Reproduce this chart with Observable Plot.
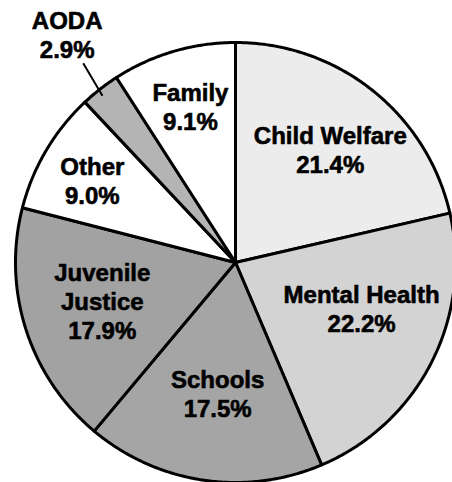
<!DOCTYPE html>
<html><head><meta charset="utf-8">
<script src="https://cdn.jsdelivr.net/npm/d3@7"></script>
<script src="https://cdn.jsdelivr.net/npm/@observablehq/plot@0.6"></script>
<style>body{margin:0;background:#fff;overflow:hidden}</style>
</head><body><div id="chart"></div>
<script>
// ---- data ----
const categories = ["Child Welfare","Mental Health","Schools","Juvenile Justice","Other","AODA","Family"];
const labelNames = ["Child Welfare","Mental Health","Schools","Juvenile\nJustice","Other","AODA","Family"];
const shares = [21.4, 22.2, 17.5, 17.9, 9.0, 2.9, 9.1];
const percentLabels = ["21.4%","22.2%","17.5%","17.9%","9.0%","2.9%","9.1%"];

// ---- style / layout ----
const sliceColors = ["#ececec","#d3d3d3","#a5a5a5","#a2a2a2","#ffffff","#b4b4b4","#ffffff"];
const labelRadius = [0.67, 0.61, 0.60, 0.63, 0.75, 1.29, 0.74];
const labelAngleShift = [1.5, -7, -0.7, 1.8, -0.8, 1.6, 0.3];
const W = 452, H = 482, CX = 235, CY = 262, R = 220;
const FONT = "'Liberation Sans', Arial, Helvetica, sans-serif";

const total = d3.sum(shares);
let acc = 0;
const slices = categories.map((c, i) => {
  const a0 = acc / total * 360; acc += shares[i]; const a1 = acc / total * 360;
  return {c, a0, a1, mid: (a0 + a1) / 2, i};
});
const pt = (deg, r) => { const t = deg * Math.PI / 180; return {x: r * Math.sin(t), y: r * Math.cos(t)}; };

const poly = [];
for (const s of slices) {
  poly.push({c: s.c, x: 0, y: 0});
  const n = Math.max(4, Math.ceil((s.a1 - s.a0) * 2));
  for (let k = 0; k <= n; k++) poly.push({c: s.c, ...pt(s.a0 + (s.a1 - s.a0) * k / n, 1)});
  poly.push({c: s.c, x: 0, y: 0});
}

const labels = slices.map(s => ({
  ...pt(s.mid + labelAngleShift[s.i], labelRadius[s.i]),
  text: labelNames[s.i] + "\n" + percentLabels[s.i]
}));

const aoda = slices[categories.indexOf("AODA")];
const l1 = pt(aoda.mid - 0.6, 0.97), l2 = pt(aoda.mid + 0.6, 1.14);
const leader = [{x1: l1.x, y1: l1.y, x2: l2.x, y2: l2.y}];

const chart = Plot.plot({
  width: W, height: H, margin: 0,
  style: {fontFamily: FONT, background: "#fff"},
  x: {domain: [-CX / R, (W - CX) / R], range: [0, W], axis: null},
  y: {domain: [-(H - CY) / R, CY / R], range: [H, 0], axis: null},
  color: {domain: categories, range: sliceColors},
  marks: [
    Plot.line(poly, {x: "x", y: "y", z: "c", fill: "c", stroke: "#000", strokeWidth: 3, strokeLinejoin: "round", curve: "linear"}),
    Plot.link(leader, {x1: "x1", y1: "y1", x2: "x2", y2: "y2", stroke: "#000", strokeWidth: 2}),
    Plot.text(labels, {x: "x", y: "y", text: "text", fontSize: 24, fontWeight: "bold", fontFamily: FONT,
      lineHeight: 1.2, lineAnchor: "middle", textAnchor: "middle", fill: "#000", stroke: "#000", strokeWidth: 0.6})
  ]
});
document.getElementById("chart").append(chart);
</script>
</body></html>
